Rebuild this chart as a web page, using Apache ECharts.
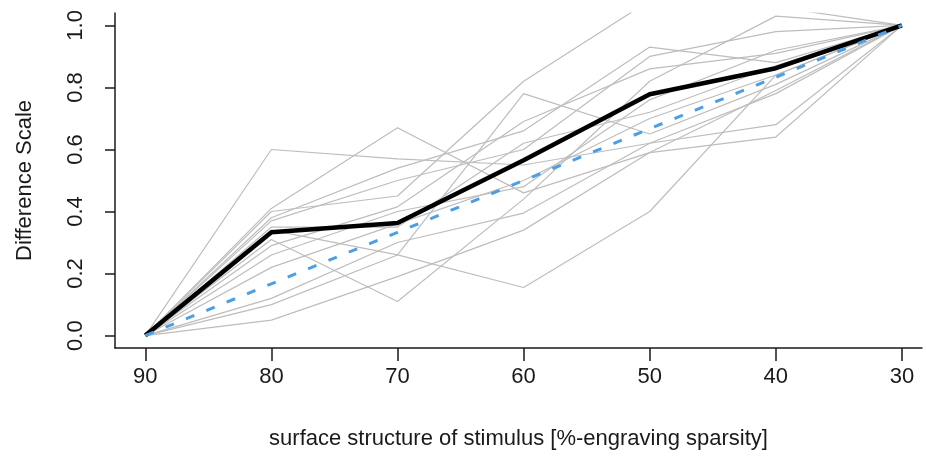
<!DOCTYPE html>
<html>
<head>
<meta charset="utf-8">
<script src="https://cdn.jsdelivr.net/npm/echarts@6/dist/echarts.min.js"></script>
<style>
  html, body { margin: 0; padding: 0; background: #fff; }
  #chart { width: 926px; height: 456px; }
</style>
</head>
<body>
<div id="chart"></div>
<script>
  // engraving sparsity levels (%), plotted right-to-left
  const sparsity = [90, 80, 70, 60, 50, 40, 30];
  const xTicks = [90, 80, 70, 60, 50, 40, 30];
  const yTicks = [0, 0.2, 0.4, 0.6, 0.8, 1.0];

  // one grey line per participant
  const participants = [
    [0, 0.60, 0.57, 0.55, 0.62, 0.78, 1],
    [0, 0.41, 0.67, 0.46, 0.59, 0.79, 1],
    [0, 0.40, 0.45, 0.82, 1.08, 1.06, 1],
    [0, 0.38, 0.54, 0.66, 0.93, 0.88, 1],
    [0, 0.37, 0.50, 0.60, 0.90, 0.98, 1],
    [0, 0.34, 0.26, 0.78, 0.65, 0.81, 1],
    [0, 0.31, 0.11, 0.44, 0.82, 1.03, 1],
    [0, 0.29, 0.415, 0.69, 0.86, 0.91, 1],
    [0, 0.26, 0.40, 0.48, 0.76, 0.92, 1],
    [0, 0.22, 0.36, 0.50, 0.70, 0.84, 1],
    [0, 0.12, 0.30, 0.395, 0.62, 0.68, 1],
    [0, 0.10, 0.26, 0.155, 0.40, 0.84, 1],
    [0, 0.05, 0.19, 0.34, 0.59, 0.64, 1],
    [0, 0.35, 0.35, 0.62, 0.72, 0.87, 1]
  ];

  const meanScale = [0, 0.333, 0.363, 0.565, 0.778, 0.862, 1];
  const linearScale = [0, 0.167, 0.333, 0.5, 0.667, 0.833, 1];

  function pairs(values) {
    return sparsity.map(function (x, i) { return [x, values[i]]; });
  }

  const font = 'Liberation Sans, Arial, sans-serif';
  const ink = '#1a1a1a';

  const series = participants.map(function (p, i) {
    return {
      name: 'p' + (i + 1),
      type: 'line',
      data: pairs(p),
      symbol: 'none',
      silent: true,
      lineStyle: { color: '#bdbdbd', width: 1.2 },
      z: 1
    };
  });

  series.push({
    name: 'mean',
    type: 'line',
    data: pairs(meanScale),
    symbol: 'none',
    lineStyle: { color: '#000', width: 4.5 },
    z: 3
  });

  series.push({
    name: 'linear',
    type: 'line',
    data: pairs(linearScale),
    symbol: 'none',
    lineStyle: { color: '#4a9fe6', width: 3, type: [9, 13] },
    z: 4
  });

  const chart = echarts.init(document.getElementById('chart'), null, { renderer: 'canvas' });
  chart.setOption({
    animation: false,
    backgroundColor: '#fff',
    grid: { left: 115, right: 4, top: 13, bottom: 108 },
    xAxis: {
      type: 'value',
      inverse: true,
      min: 28.41,
      max: 92.4,
      name: 'surface structure of stimulus [%-engraving sparsity]',
      nameLocation: 'middle',
      nameGap: 80,
      nameTextStyle: { fontFamily: font, fontSize: 22, color: ink },
      axisLine: { onZero: false, lineStyle: { color: ink, width: 1.5 } },
      axisTick: { customValues: xTicks, length: 13, lineStyle: { color: ink, width: 1.5 } },
      axisLabel: { customValues: xTicks, margin: 18, fontFamily: font, fontSize: 22, color: ink },
      splitLine: { show: false }
    },
    yAxis: {
      type: 'value',
      min: -0.04,
      max: 1.04,
      name: 'Difference Scale',
      nameLocation: 'middle',
      nameRotate: 90,
      nameGap: 79,
      nameTextStyle: { fontFamily: font, fontSize: 22, color: ink },
      axisLine: { show: true, onZero: false, lineStyle: { color: ink, width: 1.5 } },
      axisTick: { show: true, customValues: yTicks, length: 10, lineStyle: { color: ink, width: 1.5 } },
      axisLabel: {
        customValues: yTicks,
        rotate: 90,
        margin: 28,
        fontFamily: font,
        fontSize: 22,
        color: ink,
        formatter: function (v) { return v.toFixed(1); }
      },
      splitLine: { show: false }
    },
    series: series
  });
</script>
</body>
</html>
